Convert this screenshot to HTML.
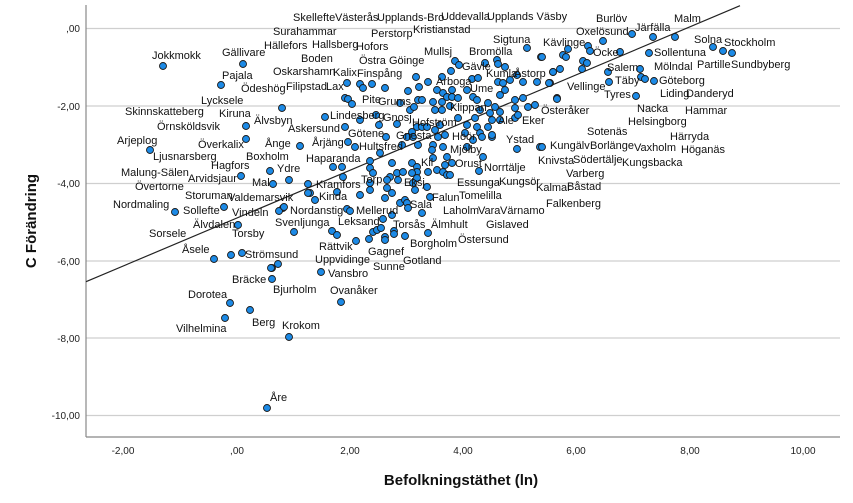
<!DOCTYPE html>
<html><head><meta charset="utf-8"><style>
html,body{margin:0;padding:0;background:#fff}
svg{display:block}
text{font-family:"Liberation Sans",sans-serif}
.l text{font-size:11px;fill:#111}
.p circle{fill:#1c8ae6;stroke:#1a1a1a;stroke-width:0.9}
</style></head><body>
<svg width="853" height="503" viewBox="0 0 853 503">
<g stroke="#cfcfcf" stroke-width="1.3">
<line x1="86" y1="28.5" x2="840" y2="28.5"/>
<line x1="86" y1="106" x2="840" y2="106"/>
<line x1="86" y1="183.5" x2="840" y2="183.5"/>
<line x1="86" y1="261" x2="840" y2="261"/>
<line x1="86" y1="338" x2="840" y2="338"/>
<line x1="86" y1="415.5" x2="840" y2="415.5"/>
</g>
<line x1="86" y1="5" x2="86" y2="437" stroke="#888" stroke-width="1.2"/>
<line x1="86" y1="437" x2="840" y2="437" stroke="#888" stroke-width="1.2"/>
<g font-size="10" fill="#222" text-anchor="end">
<text x="80" y="32">,00</text><text x="80" y="110">-2,00</text><text x="80" y="187">-4,00</text>
<text x="80" y="265">-6,00</text><text x="80" y="342">-8,00</text><text x="80" y="419">-10,00</text>
</g>
<g font-size="10" fill="#222" text-anchor="middle">
<text x="123" y="454">-2,00</text><text x="237" y="454">,00</text><text x="350" y="454">2,00</text>
<text x="463" y="454">4,00</text><text x="576" y="454">6,00</text><text x="690" y="454">8,00</text><text x="803" y="454">10,00</text>
</g>
<text x="461" y="485" font-size="15" font-weight="bold" text-anchor="middle" fill="#111">Befolkningstäthet (ln)</text>
<text transform="translate(36,221) rotate(-90)" font-size="15" font-weight="bold" text-anchor="middle" fill="#111">C Förändring</text>
<line x1="86" y1="281.7" x2="740" y2="5.7" stroke="#222" stroke-width="1.2"/>
<g class="p">
<circle cx="163" cy="66" r="3.5"/><circle cx="243" cy="64" r="3.5"/><circle cx="221" cy="85" r="3.5"/><circle cx="282" cy="108" r="3.5"/>
<circle cx="246" cy="126" r="3.5"/><circle cx="246" cy="139" r="3.5"/><circle cx="150" cy="150" r="3.5"/><circle cx="300" cy="146" r="3.5"/>
<circle cx="270" cy="171" r="3.5"/><circle cx="289" cy="180" r="3.5"/><circle cx="241" cy="176" r="3.5"/><circle cx="273" cy="184" r="3.5"/>
<circle cx="325" cy="117" r="3.5"/><circle cx="345" cy="127" r="3.5"/><circle cx="348" cy="142" r="3.5"/><circle cx="355" cy="147" r="3.5"/>
<circle cx="347" cy="83" r="3.5"/><circle cx="360" cy="84" r="3.5"/><circle cx="363" cy="88" r="3.5"/><circle cx="372" cy="84" r="3.5"/>
<circle cx="385" cy="88" r="3.5"/><circle cx="345" cy="98" r="3.5"/><circle cx="348" cy="99" r="3.5"/><circle cx="352" cy="104" r="3.5"/>
<circle cx="360" cy="120" r="3.5"/><circle cx="376" cy="115" r="3.5"/><circle cx="379" cy="125" r="3.5"/><circle cx="386" cy="137" r="3.5"/>
<circle cx="397" cy="124" r="3.5"/><circle cx="400" cy="103" r="3.5"/><circle cx="408" cy="91" r="3.5"/><circle cx="410" cy="110" r="3.5"/>
<circle cx="416" cy="77" r="3.5"/><circle cx="419" cy="87" r="3.5"/><circle cx="414" cy="107" r="3.5"/><circle cx="418" cy="100" r="3.5"/>
<circle cx="422" cy="100" r="3.5"/><circle cx="428" cy="82" r="3.5"/><circle cx="433" cy="102" r="3.5"/><circle cx="437" cy="90" r="3.5"/>
<circle cx="442" cy="77" r="3.5"/><circle cx="443" cy="93" r="3.5"/><circle cx="447" cy="97" r="3.5"/><circle cx="452" cy="90" r="3.5"/>
<circle cx="452" cy="97" r="3.5"/><circle cx="451" cy="71" r="3.5"/><circle cx="455" cy="61" r="3.5"/><circle cx="459" cy="65" r="3.5"/>
<circle cx="458" cy="98" r="3.5"/><circle cx="442" cy="102" r="3.5"/><circle cx="450" cy="106" r="3.5"/><circle cx="442" cy="110" r="3.5"/>
<circle cx="435" cy="110" r="3.5"/><circle cx="417" cy="127" r="3.5"/><circle cx="412" cy="132" r="3.5"/><circle cx="422" cy="127" r="3.5"/>
<circle cx="427" cy="127" r="3.5"/><circle cx="435" cy="130" r="3.5"/><circle cx="440" cy="125" r="3.5"/><circle cx="438" cy="137" r="3.5"/>
<circle cx="445" cy="135" r="3.5"/><circle cx="413" cy="137" r="3.5"/><circle cx="407" cy="137" r="3.5"/><circle cx="402" cy="145" r="3.5"/>
<circle cx="418" cy="145" r="3.5"/><circle cx="433" cy="145" r="3.5"/><circle cx="443" cy="147" r="3.5"/><circle cx="458" cy="118" r="3.5"/>
<circle cx="467" cy="90" r="3.5"/><circle cx="472" cy="79" r="3.5"/><circle cx="478" cy="78" r="3.5"/><circle cx="473" cy="97" r="3.5"/>
<circle cx="477" cy="100" r="3.5"/><circle cx="480" cy="110" r="3.5"/><circle cx="488" cy="103" r="3.5"/><circle cx="490" cy="113" r="3.5"/>
<circle cx="492" cy="120" r="3.5"/><circle cx="488" cy="127" r="3.5"/><circle cx="477" cy="127" r="3.5"/><circle cx="475" cy="118" r="3.5"/>
<circle cx="467" cy="125" r="3.5"/><circle cx="465" cy="133" r="3.5"/><circle cx="480" cy="133" r="3.5"/><circle cx="473" cy="140" r="3.5"/>
<circle cx="482" cy="137" r="3.5"/><circle cx="492" cy="137" r="3.5"/><circle cx="467" cy="147" r="3.5"/><circle cx="485" cy="63" r="3.5"/>
<circle cx="497" cy="60" r="3.5"/><circle cx="498" cy="64" r="3.5"/><circle cx="505" cy="67" r="3.5"/><circle cx="498" cy="82" r="3.5"/>
<circle cx="503" cy="83" r="3.5"/><circle cx="505" cy="90" r="3.5"/><circle cx="500" cy="95" r="3.5"/><circle cx="510" cy="80" r="3.5"/>
<circle cx="517" cy="75" r="3.5"/><circle cx="523" cy="82" r="3.5"/><circle cx="537" cy="82" r="3.5"/><circle cx="550" cy="83" r="3.5"/>
<circle cx="553" cy="72" r="3.5"/><circle cx="515" cy="100" r="3.5"/><circle cx="523" cy="98" r="3.5"/><circle cx="528" cy="107" r="3.5"/>
<circle cx="535" cy="105" r="3.5"/><circle cx="515" cy="108" r="3.5"/><circle cx="515" cy="118" r="3.5"/><circle cx="518" cy="115" r="3.5"/>
<circle cx="500" cy="112" r="3.5"/><circle cx="495" cy="107" r="3.5"/><circle cx="500" cy="120" r="3.5"/><circle cx="527" cy="48" r="3.5"/>
<circle cx="541" cy="57" r="3.5"/><circle cx="557" cy="98" r="3.5"/><circle cx="517" cy="149" r="3.5"/><circle cx="540" cy="147" r="3.5"/>
<circle cx="492" cy="135" r="3.5"/><circle cx="483" cy="157" r="3.5"/>
<circle cx="380" cy="153" r="3.5"/><circle cx="370" cy="161" r="3.5"/><circle cx="370" cy="168" r="3.5"/><circle cx="373" cy="173" r="3.5"/>
<circle cx="342" cy="167" r="3.5"/><circle cx="333" cy="167" r="3.5"/><circle cx="343" cy="177" r="3.5"/><circle cx="392" cy="163" r="3.5"/>
<circle cx="390" cy="177" r="3.5"/><circle cx="397" cy="173" r="3.5"/><circle cx="403" cy="172" r="3.5"/><circle cx="387" cy="180" r="3.5"/>
<circle cx="398" cy="180" r="3.5"/><circle cx="412" cy="163" r="3.5"/><circle cx="417" cy="167" r="3.5"/><circle cx="417" cy="172" r="3.5"/>
<circle cx="412" cy="173" r="3.5"/><circle cx="417" cy="178" r="3.5"/><circle cx="413" cy="183" r="3.5"/><circle cx="427" cy="187" r="3.5"/>
<circle cx="415" cy="190" r="3.5"/><circle cx="428" cy="172" r="3.5"/><circle cx="437" cy="170" r="3.5"/><circle cx="443" cy="172" r="3.5"/>
<circle cx="445" cy="165" r="3.5"/><circle cx="452" cy="163" r="3.5"/><circle cx="447" cy="175" r="3.5"/><circle cx="450" cy="175" r="3.5"/>
<circle cx="433" cy="158" r="3.5"/><circle cx="447" cy="157" r="3.5"/><circle cx="432" cy="150" r="3.5"/><circle cx="479" cy="171" r="3.5"/>
<circle cx="308" cy="184" r="3.5"/><circle cx="310" cy="193" r="3.5"/><circle cx="337" cy="192" r="3.5"/><circle cx="315" cy="200" r="3.5"/>
<circle cx="370" cy="183" r="3.5"/><circle cx="387" cy="188" r="3.5"/><circle cx="392" cy="193" r="3.5"/><circle cx="370" cy="190" r="3.5"/>
<circle cx="385" cy="198" r="3.5"/><circle cx="430" cy="197" r="3.5"/><circle cx="400" cy="203" r="3.5"/><circle cx="405" cy="200" r="3.5"/>
<circle cx="407" cy="203" r="3.5"/><circle cx="408" cy="208" r="3.5"/><circle cx="422" cy="213" r="3.5"/><circle cx="360" cy="195" r="3.5"/>
<circle cx="392" cy="215" r="3.5"/><circle cx="383" cy="219" r="3.5"/><circle cx="347" cy="209" r="3.5"/><circle cx="350" cy="211" r="3.5"/>
<circle cx="283" cy="208" r="3.5"/><circle cx="279" cy="211" r="3.5"/><circle cx="294" cy="232" r="3.5"/><circle cx="332" cy="231" r="3.5"/>
<circle cx="337" cy="235" r="3.5"/><circle cx="356" cy="241" r="3.5"/><circle cx="369" cy="239" r="3.5"/><circle cx="373" cy="232" r="3.5"/>
<circle cx="377" cy="230" r="3.5"/><circle cx="381" cy="228" r="3.5"/><circle cx="385" cy="237" r="3.5"/><circle cx="385" cy="240" r="3.5"/>
<circle cx="394" cy="231" r="3.5"/><circle cx="394" cy="234" r="3.5"/><circle cx="405" cy="236" r="3.5"/><circle cx="428" cy="233" r="3.5"/>
<circle cx="278" cy="264" r="3.5"/><circle cx="272" cy="268" r="3.5"/><circle cx="272" cy="279" r="3.5"/><circle cx="321" cy="272" r="3.5"/>
<circle cx="341" cy="302" r="3.5"/>
<circle cx="632" cy="34" r="3.5"/><circle cx="653" cy="37" r="3.5"/><circle cx="675" cy="37" r="3.5"/><circle cx="603" cy="41" r="3.5"/>
<circle cx="588" cy="46" r="3.5"/><circle cx="590" cy="51" r="3.5"/><circle cx="620" cy="52" r="3.5"/><circle cx="568" cy="49" r="3.5"/>
<circle cx="563" cy="55" r="3.5"/><circle cx="566" cy="57" r="3.5"/><circle cx="542" cy="57" r="3.5"/><circle cx="649" cy="53" r="3.5"/>
<circle cx="713" cy="47" r="3.5"/><circle cx="723" cy="51" r="3.5"/><circle cx="732" cy="53" r="3.5"/><circle cx="583" cy="61" r="3.5"/>
<circle cx="587" cy="63" r="3.5"/><circle cx="582" cy="69" r="3.5"/><circle cx="560" cy="69" r="3.5"/><circle cx="553" cy="72" r="3.5"/>
<circle cx="608" cy="72" r="3.5"/><circle cx="640" cy="69" r="3.5"/><circle cx="641" cy="77" r="3.5"/><circle cx="645" cy="79" r="3.5"/>
<circle cx="654" cy="81" r="3.5"/><circle cx="609" cy="82" r="3.5"/><circle cx="549" cy="83" r="3.5"/><circle cx="636" cy="96" r="3.5"/>
<circle cx="557" cy="99" r="3.5"/><circle cx="542" cy="147" r="3.5"/>
<circle cx="175" cy="212" r="3.5"/><circle cx="224" cy="207" r="3.5"/><circle cx="238" cy="225" r="3.5"/><circle cx="284" cy="207" r="3.5"/>
<circle cx="214" cy="259" r="3.5"/><circle cx="231" cy="255" r="3.5"/><circle cx="242" cy="253" r="3.5"/><circle cx="271" cy="268" r="3.5"/>
<circle cx="230" cy="303" r="3.5"/><circle cx="250" cy="310" r="3.5"/><circle cx="225" cy="318" r="3.5"/><circle cx="289" cy="337" r="3.5"/>
<circle cx="308" cy="193" r="3.5"/><circle cx="267" cy="408" r="3.5"/>
</g>
<g class="l">
<text x="293" y="21">Skelleftе</text><text x="335" y="21">Västerås</text><text x="377" y="21">Upplands-Bro</text><text x="441" y="20">Uddevalla</text><text x="487" y="20">Upplands Väsby</text><text x="596" y="22">Burlöv</text><text x="635" y="31">Järfälla</text><text x="674" y="22">Malm</text>
<text x="273" y="35">Surahammar</text><text x="371" y="37">Perstorp</text><text x="413" y="33">Kristianstad</text><text x="576" y="35">Oxelösund</text>
<text x="264" y="49">Hällefors</text><text x="312" y="48">Hallsberg</text><text x="356" y="50">Hofors</text><text x="493" y="43">Sigtuna</text><text x="543" y="46">Kävlinge</text><text x="593" y="56">Öcke</text><text x="694" y="43">Solna</text><text x="724" y="46">Stockholm</text>
<text x="152" y="59">Jokkmokk</text><text x="222" y="56">Gällivare</text>
<text x="301" y="62">Boden</text><text x="359" y="64">Östra Göinge</text><text x="424" y="55">Mullsj</text><text x="469" y="55">Bromölla</text><text x="462" y="70">Gävle</text><text x="654" y="56">Sollentuna</text>
<text x="273" y="75">Oskarshamn</text><text x="333" y="76">Kalix</text><text x="357" y="77">Finspång</text><text x="486" y="77">Kumla</text><text x="514" y="77">Åstorp</text><text x="607" y="71">Salem</text><text x="654" y="70">Mölndal</text><text x="697" y="68">Partille</text><text x="731" y="68">Sundbyberg</text><text x="222" y="79">Pajala</text>
<text x="241" y="92">Ödeshög</text><text x="286" y="90">Filipstad</text><text x="326" y="90">Lax</text><text x="436" y="85">Arboga</text><text x="470" y="92">Ume</text><text x="567" y="90">Vellinge</text><text x="615" y="84">Täby</text><text x="659" y="84">Göteborg</text>
<text x="201" y="104">Lycksele</text><text x="362" y="103">Pite</text><text x="378" y="105">Grums</text><text x="450" y="111">Klippan</text><text x="604" y="98">Tyres</text><text x="660" y="97">Liding</text><text x="686" y="97">Danderyd</text>
<text x="637" y="112">Nacka</text><text x="685" y="114">Hammar</text><text x="541" y="114">Österåker</text>
<text x="125" y="115">Skinnskatteberg</text><text x="219" y="117">Kiruna</text><text x="254" y="124">Älvsbyn</text><text x="330" y="119">Lindesberg</text><text x="383" y="121">Gnosj</text><text x="498" y="124">Ale</text><text x="522" y="124">Eker</text><text x="628" y="125">Helsingborg</text><text x="412" y="126">Hofström</text>
<text x="157" y="130">Örnsköldsvik</text><text x="288" y="132">Askersund</text><text x="348" y="137">Götene</text><text x="396" y="139">Gnesta</text><text x="452" y="140">Höör</text><text x="506" y="143">Ystad</text><text x="587" y="135">Sotenäs</text><text x="670" y="140">Härryda</text>
<text x="265" y="147">Ånge</text><text x="312" y="146">Årjäng</text><text x="198" y="148">Överkalix</text><text x="117" y="144">Arjeplog</text><text x="359" y="150">Hultsfred</text><text x="450" y="153">Mjölby</text><text x="550" y="149">Kungälv</text><text x="590" y="149">Borlänge</text><text x="634" y="151">Vaxholm</text><text x="681" y="153">Höganäs</text><text x="538" y="164">Knivsta</text><text x="573" y="163">Södertälje</text><text x="622" y="166">Kungsbacka</text>
<text x="153" y="160">Ljusnarsberg</text><text x="246" y="160">Boxholm</text><text x="306" y="162">Haparanda</text><text x="421" y="166">Kil</text><text x="455" y="167">Orust</text><text x="484" y="171">Norrtälje</text>
<text x="211" y="169">Hagfors</text><text x="277" y="172">Ydre</text><text x="121" y="176">Malung-Sälen</text><text x="188" y="182">Arvidsjaur</text><text x="252" y="186">Mal</text><text x="361" y="183">Torp</text><text x="404" y="186">Eksj</text><text x="457" y="186">Essunga</text><text x="499" y="185">Kungsör</text><text x="566" y="177">Varberg</text><text x="536" y="191">Kalmar</text><text x="567" y="190">Båstad</text><text x="316" y="188">Kramfors</text>
<text x="135" y="190">Övertorne</text><text x="185" y="199">Storuman</text><text x="228" y="201">Valdemarsvik</text><text x="319" y="200">Kinda</text><text x="432" y="201">Falun</text><text x="459" y="199">Tomelilla</text><text x="546" y="207">Falkenberg</text>
<text x="113" y="208">Nordmaling</text><text x="183" y="214">Sollefte</text><text x="232" y="216">Vindeln</text><text x="290" y="214">Nordanstig</text><text x="356" y="214">Mellerud</text><text x="410" y="208">Sala</text><text x="443" y="214">Laholm</text><text x="478" y="214">Vara</text><text x="500" y="214">Värnamo</text>
<text x="193" y="228">Älvdalen</text><text x="275" y="226">Svenljunga</text><text x="338" y="225">Leksand</text><text x="393" y="228">Torsås</text><text x="431" y="228">Älmhult</text><text x="486" y="228">Gislaved</text>
<text x="149" y="237">Sorsele</text><text x="232" y="237">Torsby</text><text x="458" y="243">Östersund</text><text x="410" y="247">Borgholm</text><text x="319" y="250">Rättvik</text><text x="368" y="255">Gagnef</text>
<text x="182" y="253">Åsele</text><text x="245" y="258">Strömsund</text><text x="315" y="263">Uppvidinge</text><text x="403" y="264">Gotland</text><text x="373" y="270">Sunne</text><text x="328" y="277">Vansbro</text>
<text x="232" y="283">Bräcke</text><text x="330" y="294">Ovanåker</text><text x="188" y="298">Dorotea</text><text x="273" y="293">Bjurholm</text><text x="176" y="332">Vilhelmina</text><text x="252" y="326">Berg</text><text x="282" y="329">Krokom</text><text x="270" y="401">Åre</text>
</g>
</svg>
</body></html>
